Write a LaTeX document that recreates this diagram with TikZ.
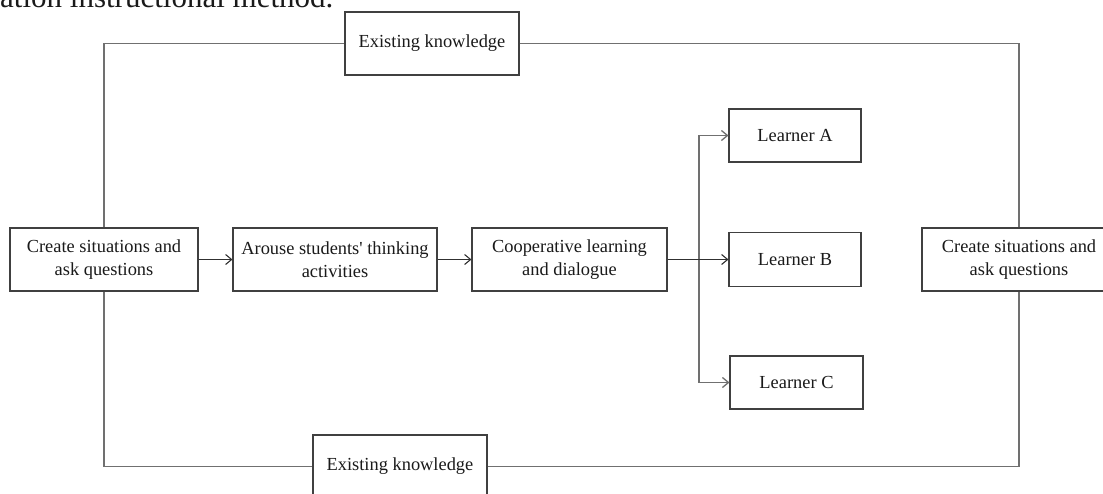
\documentclass[tikz,border=0pt]{standalone}
\usepackage{fontspec}
\setmainfont{Liberation Serif}
\usetikzlibrary{arrows.meta}
\definecolor{boxc}{HTML}{404040}
\definecolor{linec}{HTML}{707070}
\definecolor{arrc}{HTML}{303030}
\definecolor{txtc}{HTML}{1A1A1A}
\begin{document}
\begin{tikzpicture}[x=1pt,y=-1pt,
  box/.style={draw=boxc,line width=1.1pt,fill=white,align=center,inner sep=0pt,
    font=\fontsize{18.4}{23}\selectfont,text=txtc},
  loopl/.style={draw=linec,line width=1.3pt},
  arr/.style={draw=arrc,line width=1.1pt,-{Straight Barb[length=6pt,width=10pt]}},
  brarr/.style={draw=linec,line width=1.3pt,-{Straight Barb[length=6pt,width=10pt]}}]
\useasboundingbox (0,0) rectangle (1103,493);
\clip (0,0) rectangle (1103,493);
\node[anchor=base west,inner sep=0pt,font=\fontsize{31}{36}\selectfont,text=txtc] (title) at (0,7) {ation instructional method.};
\node[box,minimum width=174,minimum height=63] (ek1) at (432,43.5) {Existing knowledge};
\node[box,minimum width=174,minimum height=63] (ek2) at (400,466.5) {Existing knowledge};
\node[box,minimum width=188,minimum height=63] (b1) at (104,259.5) {Create situations and\\ask questions};
\node[box,minimum width=204,minimum height=63] (b2) at (335,259.5) {Arouse students\textquotesingle{} thinking\\activities};
\node[box,minimum width=195,minimum height=63] (b3) at (569.5,259.5) {Cooperative learning\\and dialogue};
\node[box,minimum width=132,minimum height=53] (la) at (795,135.5) {Learner A};
\node[box,minimum width=132,minimum height=54] (lb) at (795,259.5) {Learner B};
\node[box,minimum width=133,minimum height=53] (lc) at (796.5,382.5) {Learner C};
\node[box,minimum width=194,minimum height=63] (b4) at (1019,259.5) {Create situations and\\ask questions};
\coordinate (br) at (699,259.5);
\draw[loopl] (b1.north) |- (ek1.west);
\draw[loopl] (ek1.east) -| (b4.north);
\draw[loopl] (b1.south) |- (ek2.west);
\draw[loopl] (ek2.east) -| (b4.south);
\draw[arr] (b1.east) -- (b2.west);
\draw[arr] (b2.east) -- (b3.west);
\draw[brarr] (br) |- (la.west);
\draw[brarr] (br) |- (lc.west);
\draw[arr] (b3.east) -- (lb.west);
\end{tikzpicture}
\end{document}
